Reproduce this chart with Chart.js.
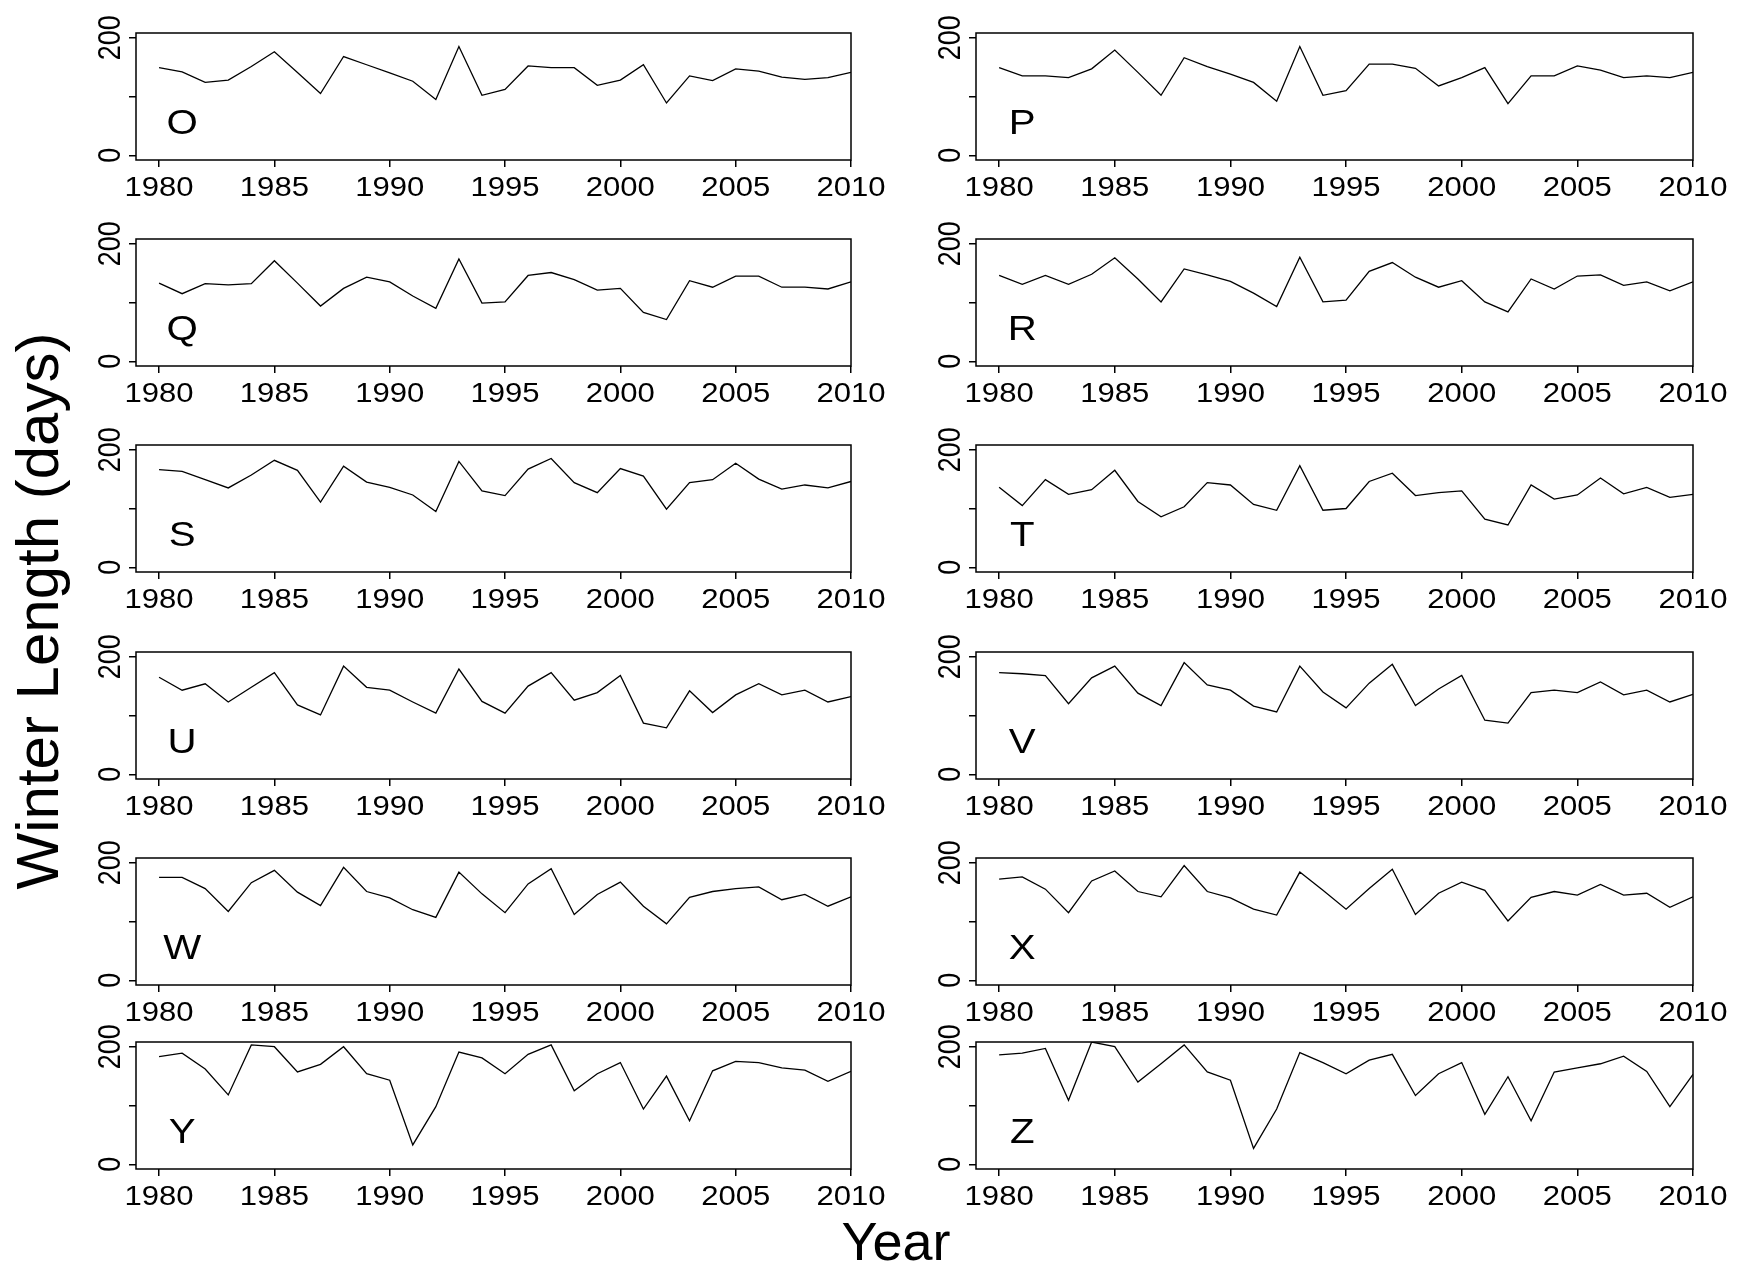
<!DOCTYPE html>
<html>
<head>
<meta charset="utf-8">
<script src="https://cdn.jsdelivr.net/npm/chart.js@4.4.0/dist/chart.umd.min.js"></script>
<style>
html,body{margin:0;padding:0;background:#fff;}
body{width:1752px;height:1268px;position:relative;overflow:hidden;font-family:"Liberation Sans",Arial,sans-serif;color:#000;}
canvas{position:absolute;}
#ytitle{position:absolute;left:-312px;top:576px;width:700px;height:70px;line-height:70px;font-size:60px;text-align:center;transform:rotate(-90deg);white-space:nowrap;}
#xtitle{position:absolute;left:696px;top:1211px;width:400px;height:60px;line-height:60px;font-size:54px;text-align:center;white-space:nowrap;}
</style>
</head>
<body>
<div id="ytitle">Winter Length (days)</div>
<div id="xtitle">Year</div>
<script>
// ---- data ----
const years = [1980,1981,1982,1983,1984,1985,1986,1987,1988,1989,1990,1991,1992,1993,1994,1995,1996,1997,1998,1999,2000,2001,2002,2003,2004,2005,2006,2007,2008,2009,2010];
const xTickValues = [1980,1985,1990,1995,2000,2005,2010];
const yTickValues = [0,100,200];
const yTickLabelValues = [0,200];
const panelLetters = ['O','P','Q','R','S','T','U','V','W','X','Y','Z'];

const seriesO = [149,142,124,128,151,176,141,105,168,154,140,126,95,185,102,112,152,149,149,119,128,154,89,135,127,147,143,133,129,132,141];
const seriesP = [149,135,135,132,147,179,141,102,166,151,138,124,92,185,102,110,155,155,148,118,132,149,88,135,135,152,145,132,135,132,141];
const seriesQ = [133,115,132,130,132,171,133,94,124,143,135,111,90,174,99,101,146,151,139,121,124,83,71,137,126,145,145,126,126,123,135];
const seriesR = [146,131,146,131,148,176,140,101,157,147,136,116,93,177,101,104,153,168,143,126,137,101,84,140,123,145,147,129,135,120,135];
const seriesS = [166,163,149,135,157,182,165,111,172,145,136,123,95,180,130,122,167,185,144,127,168,155,99,144,149,177,150,133,140,135,146];
const seriesT = [136,105,149,124,132,165,112,86,103,144,140,107,97,173,97,100,146,160,122,127,130,82,72,140,116,123,152,125,136,119,124];
const seriesU = [165,143,154,123,148,173,118,101,184,148,143,123,104,179,124,104,150,173,126,139,168,87,79,142,105,135,154,135,143,123,132];
const seriesV = [173,171,168,120,164,184,138,117,190,152,143,116,106,184,140,113,155,187,117,145,168,92,87,139,143,139,157,135,143,123,136];
const seriesW = [175,175,156,117,166,187,150,127,192,151,140,120,107,184,147,115,164,190,112,146,167,126,96,141,151,156,159,137,146,126,142];
const seriesX = [172,176,155,115,169,186,151,142,195,151,140,121,111,184,153,121,156,189,112,148,167,153,101,141,151,145,163,145,148,124,142];
const seriesY = [183,189,162,118,203,200,157,170,200,154,143,33,98,191,181,154,187,203,125,154,173,94,150,74,159,175,173,164,160,141,158];
const seriesZ = [186,189,197,109,208,200,140,171,203,157,143,27,94,190,173,154,177,187,117,154,173,85,149,74,157,164,171,184,158,98,153];

const allSeries = [seriesO,seriesP,seriesQ,seriesR,seriesS,seriesT,seriesU,seriesV,seriesW,seriesX,seriesY,seriesZ];

// ---- layout ----
const FONT = '"Liberation Sans", Arial, sans-serif';
Chart.defaults.font.family = FONT;
Chart.defaults.color = '#000';

const colFrames = [[136, 851], [976, 1693]];
const rowTops = [33, 239, 445, 652, 858, 1042];
const frameH = 127;
const padL = 70, padT = 40, padR = 50, padB = 45;
const STRETCH = 1.15;

function stretchedText(ctx, text, x, y, rotate) {
  ctx.save();
  ctx.translate(x, y);
  ctx.scale(STRETCH, 1);
  if (rotate) ctx.rotate(-Math.PI / 2);
  ctx.fillText(text, 0, 0);
  ctx.restore();
}

const panelPlugin = {
  id: 'panel',
  afterDraw(chart, args, opts) {
    const {ctx, chartArea: a} = chart;
    const xs = chart.scales.x, ys = chart.scales.y;
    ctx.save();
    ctx.strokeStyle = '#000';
    ctx.lineWidth = 1.5;
    ctx.strokeRect(a.left, a.top, a.right - a.left, a.bottom - a.top);
    ctx.fillStyle = '#000';
    ctx.font = '27px ' + FONT;
    ctx.textAlign = 'center';
    ctx.textBaseline = 'alphabetic';
    // x tick labels
    xTickValues.forEach(v => {
      stretchedText(ctx, String(v), xs.getPixelForValue(v), a.bottom + 36, false);
    });
    // y tick labels (rotated, parallel to axis)
    yTickLabelValues.forEach(v => {
      stretchedText(ctx, String(v), a.left - 16, ys.getPixelForValue(v), true);
    });
    // panel letter
    ctx.font = '35px ' + FONT;
    stretchedText(ctx, opts.letter, xs.getPixelForValue(1981), ys.getPixelForValue(57) + 12.5, false);
    ctx.restore();
  }
};

allSeries.forEach((vals, i) => {
  const col = i % 2, row = Math.floor(i / 2);
  const [fl, fr] = colFrames[col];
  const ft = rowTops[row];
  const cv = document.createElement('canvas');
  cv.width = (fr - fl) + padL + padR;
  cv.height = frameH + padT + padB;
  cv.style.left = (fl - padL) + 'px';
  cv.style.top = (ft - padT) + 'px';
  document.body.appendChild(cv);
  new Chart(cv, {
    type: 'line',
    data: {
      datasets: [{
        data: years.map((yr, k) => ({x: yr, y: vals[k]})),
        borderColor: '#000',
        borderWidth: 1.3,
        pointRadius: 0,
        fill: false,
        tension: 0
      }]
    },
    options: {
      responsive: false,
      animation: false,
      devicePixelRatio: 1,
      layout: {padding: {left: 0, top: padT, right: padR, bottom: 0}},
      plugins: {legend: {display: false}, tooltip: {enabled: false}, panel: {letter: panelLetters[i]}},
      scales: {
        x: {
          type: 'linear', min: 1979, max: 2010,
          afterBuildTicks: s => { s.ticks = xTickValues.map(v => ({value: v})); },
          afterFit: s => { s.height = padB; },
          grid: {drawOnChartArea: false, drawTicks: true, tickLength: 7, color: '#000', lineWidth: 1.5},
          border: {display: false},
          ticks: {display: false}
        },
        y: {
          type: 'linear', min: -8, max: 208,
          afterBuildTicks: s => { s.ticks = yTickValues.map(v => ({value: v})); },
          afterFit: s => { s.width = padL; },
          grid: {drawOnChartArea: false, drawTicks: true, tickLength: 7, color: '#000', lineWidth: 1.5},
          border: {display: false},
          ticks: {display: false}
        }
      }
    },
    plugins: [panelPlugin]
  });
});
</script>
</body>
</html>
